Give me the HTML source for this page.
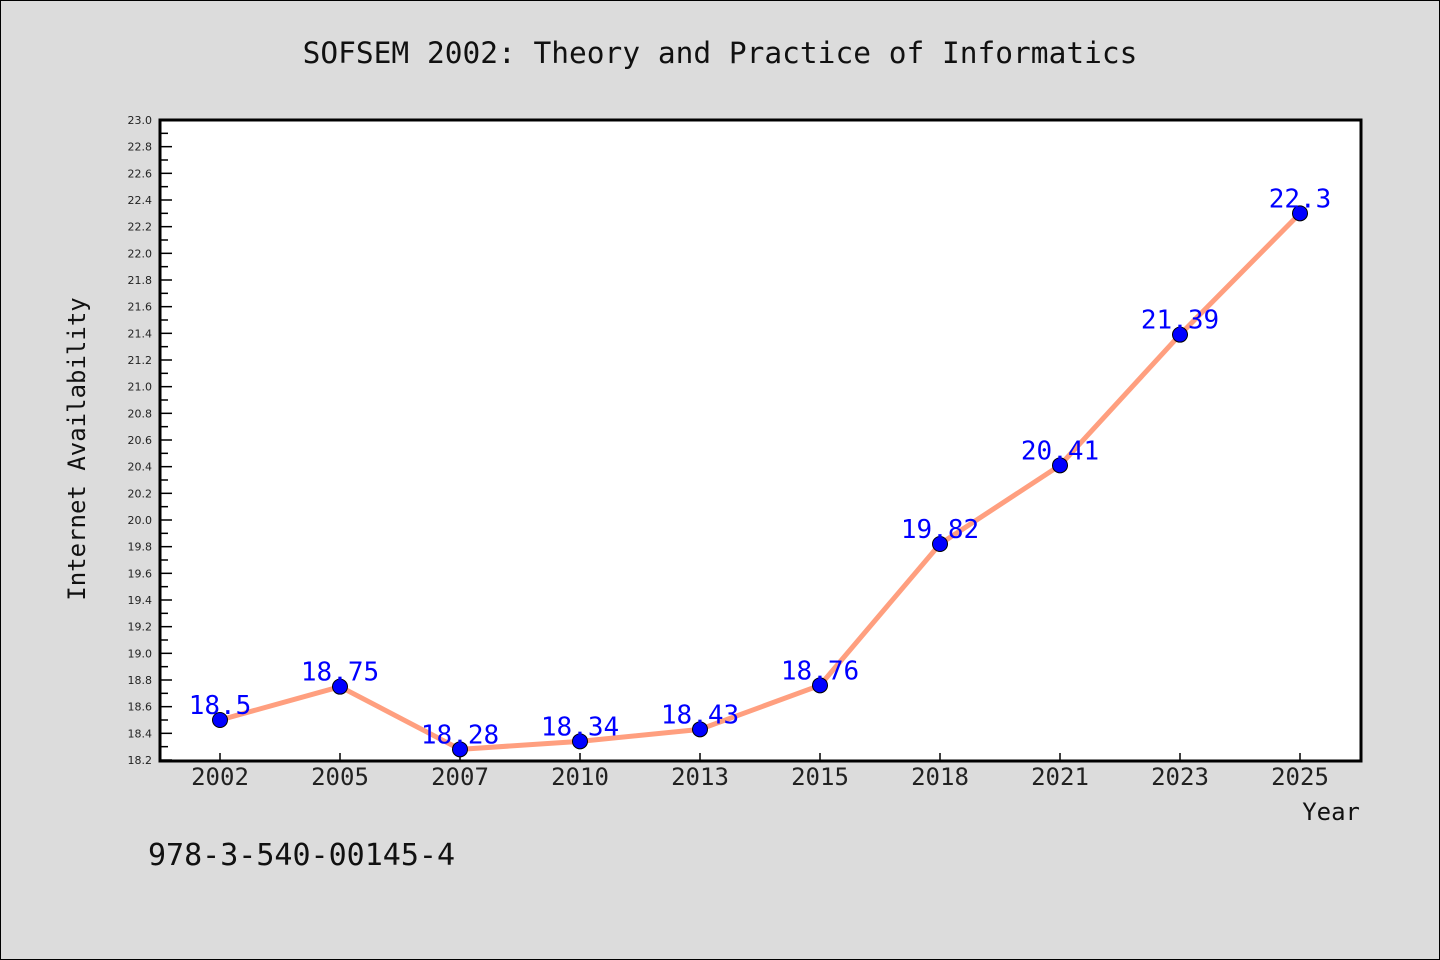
<!DOCTYPE html>
<html><head><meta charset="utf-8">
<style>
body{margin:0;background:#dcdcdc;}
svg{display:block;font-family:"DejaVu Sans Mono","Liberation Mono",monospace;}
</style></head>
<body>
<svg width="1440" height="960" viewBox="0 0 1440 960" id="c">
<rect x="0.5" y="0.5" width="1439" height="959" fill="#dcdcdc" stroke="#000"/>
<text x="720" y="63" text-anchor="middle" font-size="29.5" fill="#111">SOFSEM 2002: Theory and Practice of Informatics</text>
<rect x="160" y="120" width="1201" height="641" fill="#fff"/>
<g id="ticks"></g>
<g id="series"></g>
<rect x="160" y="120" width="1201" height="641" fill="none" stroke="#000" stroke-width="3"/>
<text transform="translate(85,449) rotate(-90)" text-anchor="middle" font-size="24" fill="#111">Internet Availability</text>
<text x="1360" y="820" text-anchor="end" font-size="24" fill="#111">Year</text>
<text x="148" y="865" font-size="30" fill="#111">978-3-540-00145-4</text>
</svg>
<script>
const categories=["2002","2005","2007","2010","2013","2015","2018","2021","2023","2025"];
const values=[18.5,18.75,18.28,18.34,18.43,18.76,19.82,20.41,21.39,22.3];
const valueLabels=["18.5","18.75","18.28","18.34","18.43","18.76","19.82","20.41","21.39","22.3"];
const yMin=18.2,yMax=23.0;
const NS="http://www.w3.org/2000/svg";
function y(v){return 760-(v-yMin)/(yMax-yMin)*640;}
function x(i){return 220+i*120;}
function mk(t,a,p){const e=document.createElementNS(NS,t);for(const k in a)e.setAttribute(k,a[k]);p.appendChild(e);return e;}
const tg=document.getElementById('ticks'),sg=document.getElementById('series');
for(let k=0;k<=48;k++){
  const v=yMin+k*0.1,yy=y(v),major=k%2===0;
  const l=mk('line',{x1:160,x2:major?172:168,y1:yy,y2:yy,stroke:'#000','stroke-width':1.5},tg);
  
  
  if(major){
    const t=mk('text',{x:152,y:yy+4,'text-anchor':'end','font-size':11,fill:'#222','font-family':'DejaVu Sans, sans-serif'},tg);
    
    
    t.textContent=v.toFixed(1);
  }
}
categories.forEach((c,i)=>{
  const l=mk('line',{x1:x(i),x2:x(i),y1:760,y2:753,stroke:'#000','stroke-width':1.5},tg);
  
  
  const t=mk('text',{x:x(i),y:785,'text-anchor':'middle','font-size':24,fill:'#222'},tg);
  
  
  t.textContent=c;
});
const pts=values.map((v,i)=>x(i)+','+y(v)).join(' ');
const pl=mk('polyline',{points:pts,fill:'none',stroke:'#ff9f7f','stroke-width':5,'stroke-linejoin':'round'},sg);


values.forEach((v,i)=>{
  const c=mk('circle',{cx:x(i),cy:y(v),r:7.5,fill:'#0000ff',stroke:'#000','stroke-width':1},sg);
  
  
});
values.forEach((v,i)=>{
  const t=mk('text',{x:x(i),y:y(v)-6,'text-anchor':'middle','font-size':26,fill:'#0000ff'},sg);
  
  
  t.textContent=valueLabels[i];
});
</script>
</body></html>
